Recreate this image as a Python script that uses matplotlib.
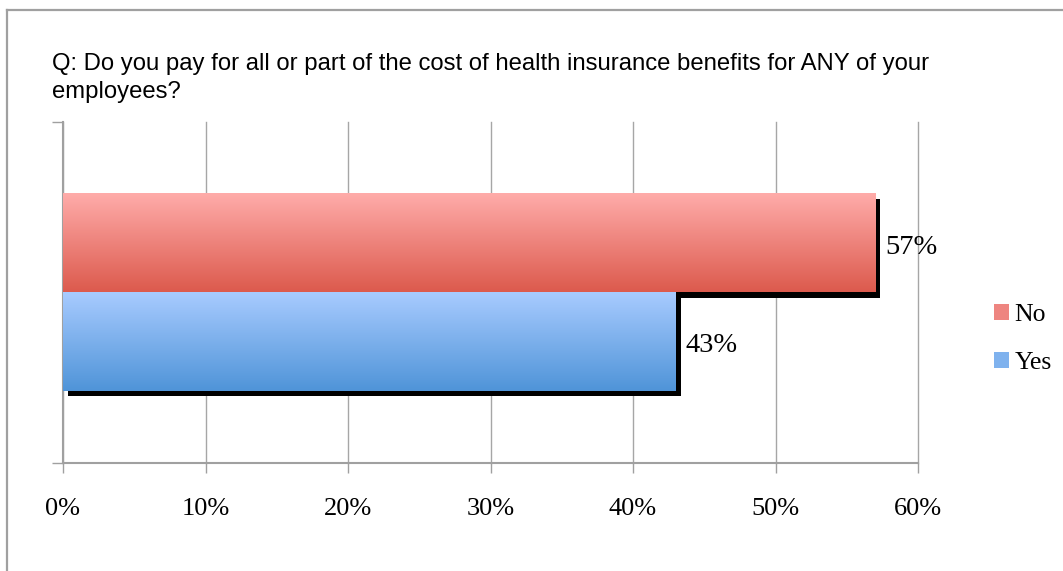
import numpy as np
import matplotlib
matplotlib.use("Agg")
from matplotlib import pyplot as plt
from matplotlib.colors import LinearSegmentedColormap
from matplotlib.patches import Patch
import matplotlib.transforms as mtransforms

# survey answers, share of respondents
answers = ["No", "Yes"]
shares = [0.57, 0.43]
top_colors = ["#ffacaa", "#a8cbff"]
bottom_colors = ["#dc5a4d", "#4f94d8"]
xticks = [0, 0.1, 0.2, 0.3, 0.4, 0.5, 0.6]
xticklabels = ["0%", "10%", "20%", "30%", "40%", "50%", "60%"]
question = ("Q: Do you pay for all or part of the cost of health insurance benefits for ANY of your\n"
            "employees?")

W, H = 1063, 571
fig = plt.figure(figsize=(W / 100, H / 100), dpi=100)

# outer chart frame (left and top edges)
fig.add_artist(plt.Line2D([7 / W, 7 / W], [0, 1 - 10 / H], color="#a0a0a0", lw=1.6))
fig.add_artist(plt.Line2D([7 / W, 1], [1 - 10 / H, 1 - 10 / H], color="#a0a0a0", lw=1.6))

fig.text(52 / W, 1 - 78 / H, question, family="Liberation Sans", fontsize=17.2,
         va="center", ha="left", linespacing=1.4)

ax = fig.add_axes([63 / W, 108 / H, 855 / W, 341 / H])

bar_h = 0.2874
ypos = [bar_h / 2, -bar_h / 2]

# drop shadow, shifted right and down
shadow_tr = ax.transData + mtransforms.ScaledTranslation(5 / 100, -5 / 100, fig.dpi_scale_trans)
for y, v in zip(ypos, shares):
    ax.barh(y, v, height=bar_h, color="black", transform=shadow_tr, zorder=2)

# gradient-filled bars
grad = np.linspace(0, 1, 256).reshape(-1, 1)
for y, v, c0, c1 in zip(ypos, shares, top_colors, bottom_colors):
    cmap = LinearSegmentedColormap.from_list("g", [c0, c1])
    ax.imshow(grad, cmap=cmap, aspect="auto", origin="upper",
              extent=(0, v, y - bar_h / 2, y + bar_h / 2), zorder=3)
    ax.text(v + 0.007, y - 0.012, "{:.0f}%".format(v * 100), family="Liberation Serif",
            fontsize=20.5, va="center", ha="left", zorder=4)

ax.set_xlim(0, 0.6)
ax.set_ylim(-0.5, 0.5)
ax.set_xticks(xticks)
ax.set_xticklabels(xticklabels, family="Liberation Serif", fontsize=19)
ax.set_yticks([-0.5, 0.5])
ax.set_yticklabels([])
ax.tick_params(axis="x", direction="out", length=7, width=1, color="#a0a0a0", pad=18)
ax.tick_params(axis="y", direction="out", length=8, width=1, color="#a0a0a0")
ax.grid(axis="x", color="#a6a6a6", lw=1)
for gl in ax.get_xgridlines():
    gl.set_clip_on(False)
ax.set_axisbelow(True)
for s in ["top", "right"]:
    ax.spines[s].set_visible(False)
for s in ["left", "bottom"]:
    ax.spines[s].set_color("#a0a0a0")
    ax.spines[s].set_linewidth(1.5)

handles = [Patch(facecolor=c, edgecolor="none") for c in ["#ee8580", "#7fb2ee"]]
leg = fig.legend(handles, answers, loc="center left", bbox_to_anchor=(994 / W, 1 - 339 / H),
                 frameon=False, prop={"family": "Liberation Serif", "size": 18.5},
                 handlelength=0.6, handleheight=0.6, handletextpad=0.2, labelspacing=1.0,
                 borderpad=0, borderaxespad=0)

fig.savefig("out.png", dpi=100)
